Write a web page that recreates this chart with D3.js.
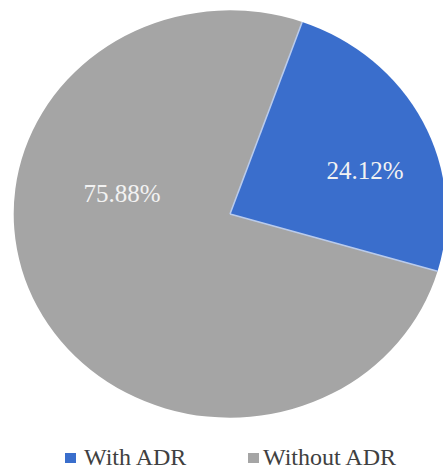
<!DOCTYPE html>
<html>
<head>
<meta charset="utf-8">
<script src="https://cdn.jsdelivr.net/npm/d3@7"></script>
<style>
  body { margin: 0; background: #fff; }
</style>
</head>
<body>
<div id="chart"></div>
<script>
// data
var categories = ["With ADR", "Without ADR"];
var values = [24.12, 75.88];
var colors = ["#3a6ecc", "#a5a5a5"];

var serif = "'Times New Roman', Times, 'Liberation Serif', 'DejaVu Serif', serif";

var width = 443, height = 476;
var cx = 230, cy = 214,
    radius = 210,
    sx = 1.03, sy = 0.97;           // picture is slightly wider than tall
var startOffset = 19.5 * Math.PI / 180;

// label placement (angle in degrees from top, distance from centre)
var labelPos = [[72, 142], [281, 110]];

var svg = d3.select("#chart")
  .append("svg")
    .attr("width", width)
    .attr("height", height);

var g = svg.append("g")
    .attr("transform", "translate(" + cx + "," + cy + ") scale(" + sx + "," + sy + ")");

var pie = d3.pie()
    .sort(null)
    .startAngle(startOffset)
    .endAngle(startOffset + 2 * Math.PI)
    .value(function(d) { return d; });

var arc = d3.arc()
    .innerRadius(0)
    .outerRadius(radius);

var arcs = pie(values);

g.selectAll("path")
  .data(arcs)
  .enter()
  .append("path")
    .attr("d", arc)
    .attr("fill", function(d, i) { return colors[i]; });

// thin light separators between slices
g.selectAll("line")
  .data(arcs)
  .enter()
  .append("line")
    .attr("x1", 0).attr("y1", 0)
    .attr("x2", function(d) { return Math.sin(d.startAngle) * radius; })
    .attr("y2", function(d) { return -Math.cos(d.startAngle) * radius; })
    .attr("stroke", "#b9cbec")
    .attr("stroke-width", 1.5);

// percentage labels
svg.append("g")
  .selectAll("text")
  .data(arcs)
  .enter()
  .append("text")
    .attr("x", function(d, i) { return cx + Math.sin(labelPos[i][0] * Math.PI / 180) * labelPos[i][1]; })
    .attr("y", function(d, i) { return cy - Math.cos(labelPos[i][0] * Math.PI / 180) * labelPos[i][1]; })
    .attr("text-anchor", "middle")
    .attr("dominant-baseline", "central")
    .attr("fill", "#f2f2f2")
    .style("font-family", serif)
    .style("font-size", "25px")
    .text(function(d) { return d.data.toFixed(2) + "%"; });

// legend
var legendX = [65, 248];
var legend = svg.append("g")
  .selectAll("g")
  .data(categories)
  .enter()
  .append("g")
    .attr("transform", function(d, i) { return "translate(" + legendX[i] + ",465)"; });

legend.append("rect")
    .attr("x", 0)
    .attr("y", -12)
    .attr("width", 11)
    .attr("height", 10)
    .attr("fill", function(d, i) { return colors[i]; });

legend.append("text")
    .attr("x", function(d, i) { return i === 0 ? 19 : 15; })
    .attr("y", 0)
    .attr("fill", "#404040")
    .style("font-family", serif)
    .style("font-size", "24px")
    .text(function(d) { return d; });
</script>
</body>
</html>
